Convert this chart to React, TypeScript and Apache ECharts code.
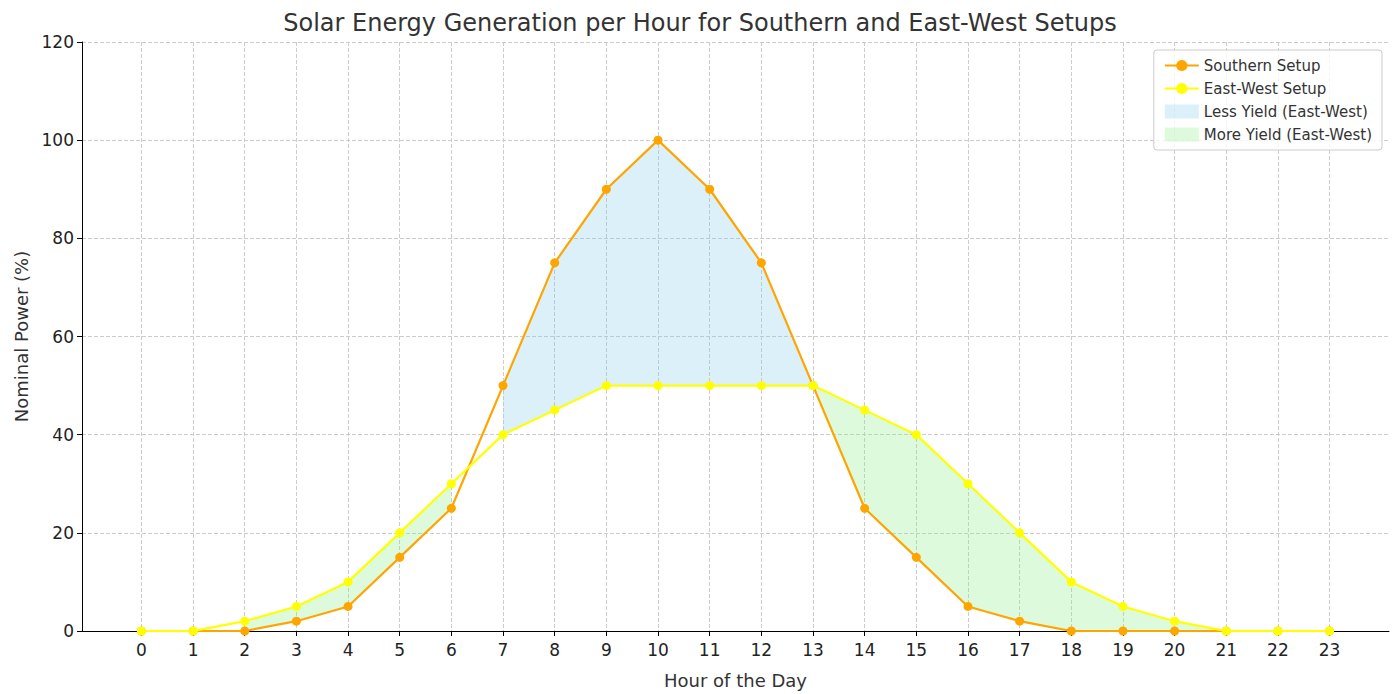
import { useEffect, useRef } from 'react';
import * as echarts from 'echarts';

const hours = Array.from({ length: 24 }, (_, i) => i);
const southern = [0, 0, 0, 2, 5, 15, 25, 50, 75, 90, 100, 90, 75, 50, 25, 15, 5, 2, 0, 0, 0, 0, 0, 0];
const eastWest = [0, 0, 2, 5, 10, 20, 30, 40, 45, 50, 50, 50, 50, 50, 45, 40, 30, 20, 10, 5, 2, 0, 0, 0];
// 填充区段的起点小时
const lessSegments = [7, 8, 9, 10, 11, 12];
const moreSegments = [2, 3, 4, 5, 13, 14, 15, 16, 17, 18, 19, 20];

const FONT = 'DejaVu Sans';

export default function App() {
  const ref = useRef<HTMLDivElement>(null);

  useEffect(() => {
    document.body.style.margin = '0';
    if (!ref.current) return;
    const chart = echarts.init(ref.current, undefined, { renderer: 'svg' });

    const band = (name: string, segs: number[], color: string) => ({
      name,
      type: 'custom' as const,
      data: segs.map((s) => [s]),
      itemStyle: { color },
      z: 1,
      silent: true,
      renderItem: (_p: unknown, api: any) => {
        const i = api.value(0) as number;
        const pts = [
          api.coord([i, southern[i]]),
          api.coord([i + 1, southern[i + 1]]),
          api.coord([i + 1, eastWest[i + 1]]),
          api.coord([i, eastWest[i]]),
        ];
        return { type: 'polygon', shape: { points: pts }, style: { fill: color } };
      },
    });

    chart.setOption({
      animation: false,
      textStyle: { fontFamily: FONT },
      title: {
        text: 'Solar Energy Generation per Hour for Southern and East-West Setups',
        left: 'center',
        top: 6,
        textStyle: { fontFamily: FONT, fontSize: 24, fontWeight: 'normal', color: '#333' },
      },
      legend: {
        orient: 'vertical',
        right: 18,
        top: 50,
        itemGap: 8,
        padding: [8, 10],
        borderColor: '#ccc',
        borderWidth: 1,
        borderRadius: 3,
        backgroundColor: 'rgba(255,255,255,0.8)',
        textStyle: { fontFamily: FONT, fontSize: 15, color: '#333' },
        itemWidth: 34,
        itemHeight: 14,
        data: [
          { name: 'Southern Setup' },
          { name: 'East-West Setup' },
          { name: 'Less Yield (East-West)', icon: 'rect' },
          { name: 'More Yield (East-West)', icon: 'rect' },
        ],
      },
      grid: { left: 82, right: 11, top: 42, bottom: 63 },
      xAxis: {
        type: 'value',
        min: -1.15,
        max: 24.15,
        name: 'Hour of the Day',
        nameLocation: 'middle',
        nameGap: 40,
        nameTextStyle: { fontFamily: FONT, fontSize: 18, color: '#333' },
        axisLine: { onZero: false, lineStyle: { color: '#000' } },
        axisTick: { customValues: hours, lineStyle: { color: '#000' } },
        axisLabel: { customValues: hours, fontSize: 17, color: '#222', margin: 10 },
        splitLine: { show: true, lineStyle: { type: 'dashed', color: '#ccc' } },
      },
      yAxis: {
        type: 'value',
        min: 0,
        max: 120,
        interval: 20,
        name: 'Nominal Power (%)',
        nameLocation: 'middle',
        nameGap: 52,
        nameTextStyle: { fontFamily: FONT, fontSize: 18, color: '#333' },
        axisLine: { show: true, onZero: false, lineStyle: { color: '#000' } },
        axisTick: { show: true, lineStyle: { color: '#000' } },
        axisLabel: { fontSize: 17, color: '#222' },
        splitLine: { show: true, lineStyle: { type: 'dashed', color: '#ccc' } },
      },
      series: [
        band('Less Yield (East-West)', lessSegments, 'rgba(135,206,235,0.3)'),
        band('More Yield (East-West)', moreSegments, 'rgba(144,238,144,0.3)'),
        {
          name: 'Southern Setup',
          type: 'line',
          data: hours.map((h, i) => [h, southern[i]]),
          symbol: 'circle',
          symbolSize: 9,
          itemStyle: { color: '#FFA500' },
          lineStyle: { color: '#FFA500', width: 2.2 },
          z: 3,
        },
        {
          name: 'East-West Setup',
          type: 'line',
          data: hours.map((h, i) => [h, eastWest[i]]),
          symbol: 'circle',
          symbolSize: 9,
          itemStyle: { color: '#FFFF00' },
          lineStyle: { color: '#FFFF00', width: 2.2 },
          z: 4,
        },
      ],
    });

    return () => chart.dispose();
  }, []);

  return <div ref={ref} style={{ width: 1400, height: 694 }} />;
}
